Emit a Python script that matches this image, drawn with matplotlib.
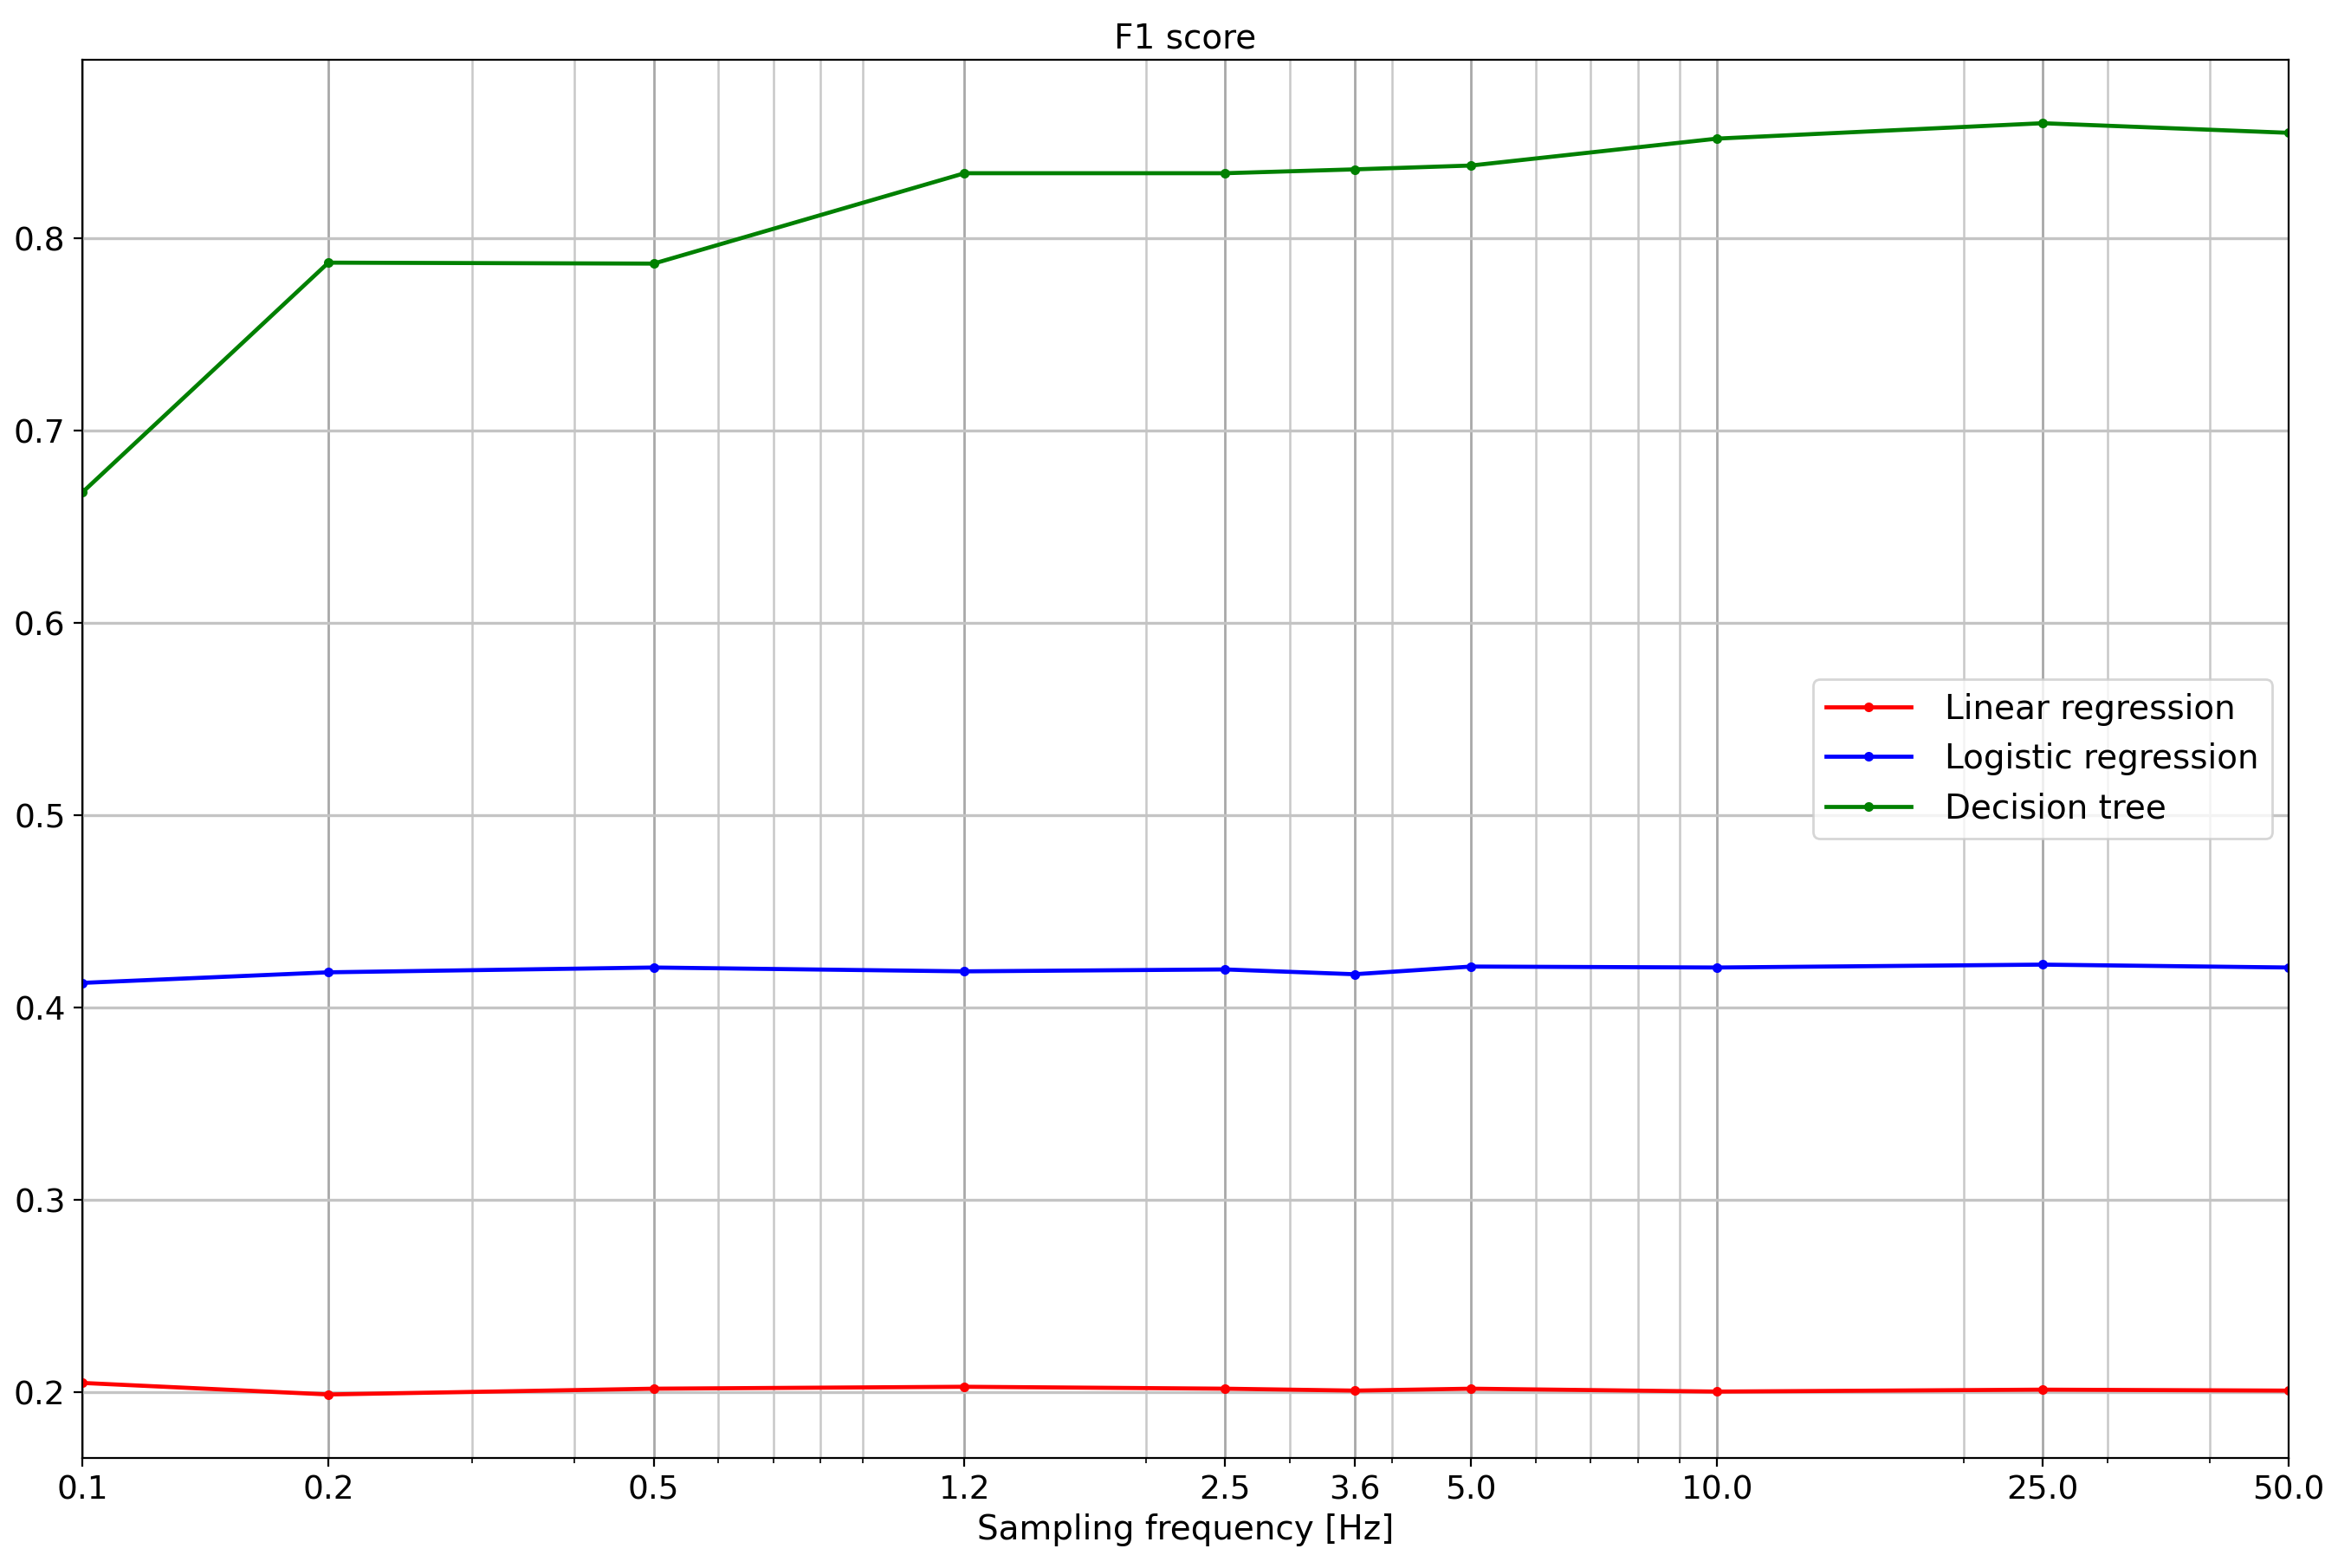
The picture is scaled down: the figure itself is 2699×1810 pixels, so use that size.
import numpy as np
import matplotlib
matplotlib.use('Agg')
import matplotlib.pyplot as plt
from matplotlib.ticker import NullFormatter

# sampling frequencies [Hz]
freqs = [0.1, 0.2, 0.5, 1.2, 2.5, 3.6, 5.0, 10.0, 25.0, 50.0]
freq_labels = [str(f) for f in freqs]

# F1 scores per model
f1_linear = [0.205, 0.199, 0.202, 0.203, 0.202, 0.201, 0.202, 0.2005, 0.2015, 0.201]
f1_logistic = [0.413, 0.4185, 0.421, 0.419, 0.420, 0.4175, 0.4215, 0.421, 0.4225, 0.421]
f1_tree = [0.668, 0.7875, 0.787, 0.834, 0.834, 0.836, 0.838, 0.852, 0.860, 0.855]

fig = plt.figure(figsize=(13.495, 9.05), dpi=200)
ax = fig.add_axes([0.0352, 0.0702, 0.9437, 0.8917])

ax.plot(freqs, f1_linear, color='red', marker='.', lw=1.7, label='Linear regression')
ax.plot(freqs, f1_logistic, color='blue', marker='.', lw=1.7, label='Logistic regression')
ax.plot(freqs, f1_tree, color='green', marker='.', lw=1.7, label='Decision tree')

ax.set_xscale('log')
ax.set_xticks(freqs)
ax.set_xticklabels(freq_labels)
ax.xaxis.set_minor_formatter(NullFormatter())
ax.set_xlim(0.1, 50.0)
ax.set_ylim(0.166, 0.893)
ax.set_yticks([0.2, 0.3, 0.4, 0.5, 0.6, 0.7, 0.8])

ax.grid(which='major', axis='x', color='#a8a8a8', lw=1.0)
ax.grid(which='major', axis='y', color='#c4c4c4', lw=1.2)
ax.grid(which='minor', axis='x', color='#c8c8c8', lw=0.9)

ax.tick_params(labelsize=13.5)
ax.set_title('F1 score', fontsize=14, pad=5)
ax.set_xlabel('Sampling frequency [Hz]', fontsize=14, labelpad=3)
ax.legend(loc='center right', fontsize=14, handlelength=2.5, handletextpad=1.0)

plt.savefig('out.png', dpi=200)
